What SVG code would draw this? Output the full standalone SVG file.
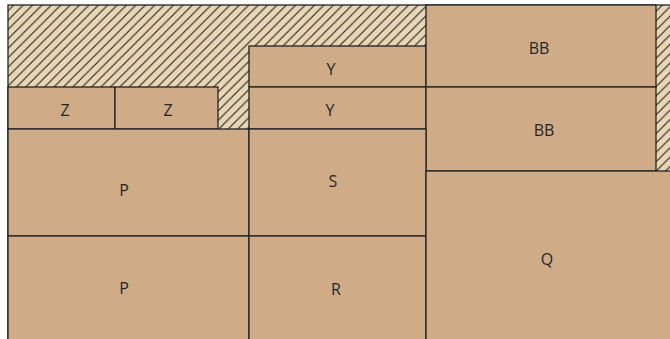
<svg xmlns="http://www.w3.org/2000/svg" width="670" height="339" viewBox="0 0 670 339">
<defs>
<pattern id="hatch" patternUnits="userSpaceOnUse" width="9.4" height="9.4">
<rect width="9.4" height="9.4" fill="#E8D6B4"/>
<path d="M-1,1 l2,-2 M0,9.4 l9.4,-9.4 M8.4,10.4 l2,-2" stroke="#1e1e1e" stroke-width="1.1"/>
</pattern>
<style>
.box{fill:#CFAC87;stroke:#222;stroke-width:1.3}
.lbl{font-family:"Open Sans","Noto Sans",sans-serif;font-size:16px;fill:#262626;text-anchor:middle;dominant-baseline:central}
</style>
</defs>
<rect x="0" y="0" width="670" height="339" fill="#ffffff"/>
<rect x="8" y="5" width="670" height="340" fill="url(#hatch)" stroke="#222" stroke-width="1.3"/>
<g id="Z1"><rect class="box" x="8" y="87" width="107" height="42"/><text class="lbl" x="65" y="110">Z</text></g>
<g id="Z2"><rect class="box" x="115" y="87" width="103" height="42"/><text class="lbl" x="168" y="110">Z</text></g>
<g id="Y1"><rect class="box" x="249" y="46" width="177" height="41"/><text class="lbl" x="331" y="69">Y</text></g>
<g id="Y2"><rect class="box" x="249" y="87" width="177" height="42"/><text class="lbl" x="330" y="110">Y</text></g>
<g id="BB1"><rect class="box" x="426" y="5" width="230" height="82"/><text class="lbl" x="539" y="48">BB</text></g>
<g id="BB2"><rect class="box" x="426" y="87" width="230" height="84"/><text class="lbl" x="544" y="130">BB</text></g>
<g id="P1"><rect class="box" x="8" y="129" width="241" height="107"/><text class="lbl" x="124" y="190">P</text></g>
<g id="P2"><rect class="box" x="8" y="236" width="241" height="110"/><text class="lbl" x="124" y="288">P</text></g>
<g id="S"><rect class="box" x="249" y="129" width="177" height="107"/><text class="lbl" x="333" y="181">S</text></g>
<g id="R"><rect class="box" x="249" y="236" width="177" height="110"/><text class="lbl" x="336" y="289">R</text></g>
<g id="Q"><rect class="box" x="426" y="171" width="250" height="175"/><text class="lbl" x="547" y="259">Q</text></g>
<g id="connectors"></g>
</svg>
